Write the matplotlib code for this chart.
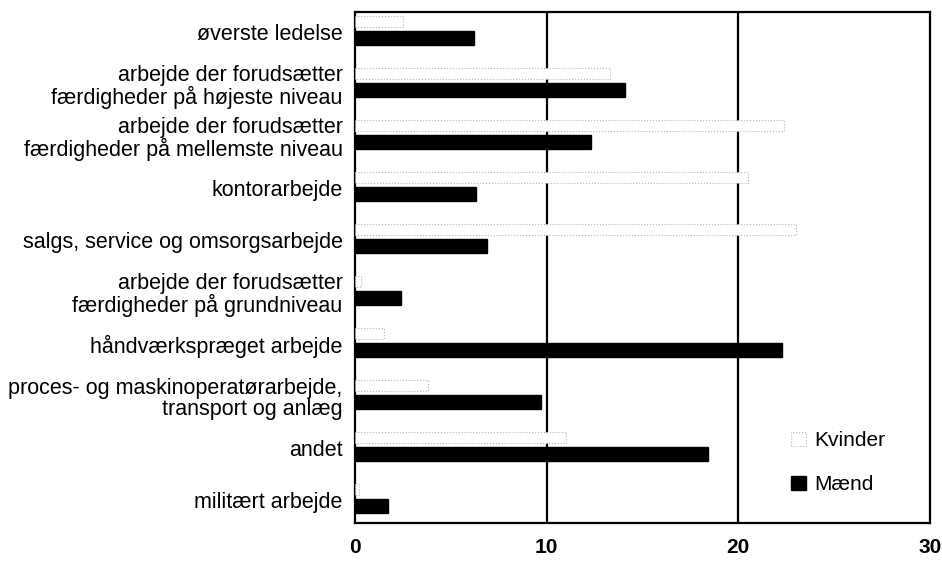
import matplotlib.pyplot as plt
import numpy as np

plt.rcParams['font.family'] = ['Liberation Sans', 'DejaVu Sans']

# Kategorier (top til bund)
categories = [
    "øverste ledelse",
    "arbejde der forudsætter\nfærdigheder på højeste niveau",
    "arbejde der forudsætter\nfærdigheder på mellemste niveau",
    "kontorarbejde",
    "salgs, service og omsorgsarbejde",
    "arbejde der forudsætter\nfærdigheder på grundniveau",
    "håndværkspræget arbejde",
    "proces- og maskinoperatørarbejde,\ntransport og anlæg",
    "andet",
    "militært arbejde",
]
kvinder = [2.5, 13.3, 22.4, 20.5, 23.0, 0.3, 1.5, 3.8, 11.0, 0.2]
maend = [6.2, 14.1, 12.3, 6.3, 6.9, 2.4, 22.3, 9.7, 18.4, 1.7]
xticks = [0, 10, 20, 30]

fig = plt.figure(figsize=(9.42, 5.65), dpi=100)
ax = fig.add_axes([0.377, 0.074, 0.610, 0.905])

y = np.arange(len(categories))
off = 0.16

ax.barh(y - off, kvinder, height=0.22, color='white', edgecolor='#b4b4b4',
        linestyle=':', linewidth=0.8, zorder=3, label='Kvinder')
ax.barh(y + off, maend, height=0.26, color='black', edgecolor='black',
        zorder=3, label='Mænd')

for xv in (10, 20):
    ax.axvline(xv, color='black', linewidth=1.6, zorder=1)

ax.set_xlim(0, 30)
ax.set_ylim(9.49, -0.34)
ax.set_xticks(xticks)
ax.set_xticklabels([str(t) for t in xticks], fontsize=15, fontweight='bold')
ax.set_yticks(y + 0.05)
ax.set_yticklabels(categories, fontsize=15.5, linespacing=1.0)
ax.tick_params(axis='both', length=0, pad=9)
ax.tick_params(axis='x', pad=11)

for s in ax.spines.values():
    s.set_linewidth(1.6)
    s.set_color('black')

ax.legend(loc='lower right', bbox_to_anchor=(0.955, 0.02), frameon=False,
          fontsize=15, labelspacing=1.2, handlelength=0.7, handleheight=0.7,
          handletextpad=0.4)

fig.savefig('out.png', dpi=100)
